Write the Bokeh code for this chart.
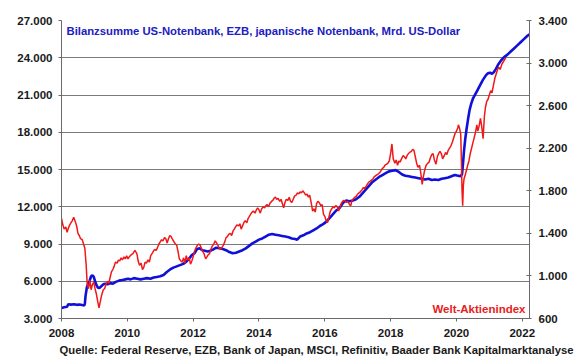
from bokeh.plotting import figure
from bokeh.models import Range1d, LinearAxis, FixedTicker, CustomJSTickFormatter, Label, Title
from bokeh.embed import file_html
from bokeh.resources import INLINE

# ---- data ----
x_ticks = [2008, 2010, 2012, 2014, 2016, 2018, 2020, 2022]
left_ticks = [3000, 6000, 9000, 12000, 15000, 18000, 21000, 24000, 27000]
right_ticks = [600, 1000, 1400, 1800, 2200, 2600, 3000, 3400]

blue_years = [2008.00, 2008.08, 2008.17, 2008.21, 2008.29, 2008.38, 2008.46, 2008.54, 2008.63, 2008.69,
              2008.71, 2008.73, 2008.77, 2008.81, 2008.85, 2008.90, 2008.94, 2008.98, 2009.02, 2009.06,
              2009.10, 2009.15, 2009.21, 2009.27, 2009.33, 2009.40, 2009.48, 2009.56, 2009.65, 2009.75,
              2009.85, 2009.94, 2010.02, 2010.10, 2010.20, 2010.30, 2010.40, 2010.50, 2010.60, 2010.70,
              2010.80, 2010.90, 2011.00, 2011.10, 2011.20, 2011.30, 2011.40, 2011.50, 2011.60, 2011.70,
              2011.80, 2011.90, 2011.96, 2012.04, 2012.12, 2012.20, 2012.28, 2012.36, 2012.44, 2012.52,
              2012.60, 2012.70, 2012.80, 2012.90, 2013.00, 2013.10, 2013.20, 2013.30, 2013.40, 2013.50,
              2013.60, 2013.70, 2013.80, 2013.90, 2014.00, 2014.10, 2014.20, 2014.30, 2014.40, 2014.50,
              2014.60, 2014.70, 2014.80, 2014.90, 2015.00, 2015.10, 2015.16, 2015.25, 2015.35, 2015.45,
              2015.55, 2015.65, 2015.75, 2015.85, 2015.95, 2016.05, 2016.15, 2016.25, 2016.35, 2016.45,
              2016.55, 2016.65, 2016.75, 2016.85, 2016.95, 2017.05, 2017.15, 2017.25, 2017.35, 2017.45,
              2017.55, 2017.65, 2017.75, 2017.85, 2017.95, 2018.05, 2018.15, 2018.25, 2018.35, 2018.45,
              2018.55, 2018.65, 2018.75, 2018.85, 2018.95, 2019.05, 2019.15, 2019.25, 2019.35, 2019.45,
              2019.55, 2019.65, 2019.75, 2019.85, 2019.95, 2020.05, 2020.12, 2020.17, 2020.20, 2020.23,
              2020.27, 2020.31, 2020.35, 2020.40, 2020.45, 2020.50, 2020.60, 2020.70, 2020.80, 2020.90,
              2020.96, 2021.02, 2021.08, 2021.14, 2021.20, 2021.28, 2021.36, 2021.45, 2021.55, 2021.65,
              2021.75, 2021.85, 2021.95, 2022.05, 2022.15, 2022.22]
blue_values = [3850, 3900, 3950, 4150, 4120, 4150, 4100, 4130, 4080, 4050,
               4200, 4800, 5500, 5800, 6000, 6400, 6480, 6350, 6000, 5700,
               5500, 5450, 5600, 5750, 5800, 5750, 5850, 5800, 5950, 6050,
               6100, 6150, 6200, 6150, 6250, 6200, 6150, 6200, 6250, 6200,
               6300, 6350, 6400, 6500, 6750, 6950, 7100, 7200, 7300, 7400,
               7600, 7900, 8100, 8250, 8600, 8650, 8500, 8450, 8400, 8450,
               8550, 8700, 8650, 8600, 8500, 8350, 8250, 8300, 8400, 8500,
               8650, 8850, 9050, 9200, 9350, 9450, 9600, 9750, 9800, 9750,
               9700, 9650, 9600, 9550, 9450, 9400, 9350, 9600, 9700, 9850,
               9950, 10100, 10250, 10450, 10600, 10800, 11100, 11400, 11700, 11900,
               12300, 12500, 12450, 12500, 12600, 12800, 13100, 13400, 13700, 14000,
               14200, 14400, 14550, 14700, 14850, 14900, 14950, 14800, 14600, 14500,
               14450, 14400, 14350, 14300, 14250, 14200, 14250, 14150, 14200, 14150,
               14250, 14300, 14350, 14450, 14550, 14500, 14450, 14600, 15500, 16500,
               17500, 18300, 19000, 19800, 20300, 20700, 21200, 21700, 22200, 22600,
               22750, 22800, 22700, 22850, 23100, 23500, 23800, 24050, 24250, 24500,
               24750, 25000, 25250, 25500, 25750, 25900]

red_years = [2008.00, 2008.04, 2008.08, 2008.13, 2008.17, 2008.21, 2008.25, 2008.29, 2008.33, 2008.37,
             2008.42, 2008.46, 2008.50, 2008.54, 2008.58, 2008.63, 2008.67, 2008.71, 2008.75, 2008.78,
             2008.82, 2008.86, 2008.90, 2008.94, 2008.98, 2009.02, 2009.06, 2009.10, 2009.14, 2009.18,
             2009.22, 2009.27, 2009.31, 2009.35, 2009.40, 2009.44, 2009.48, 2009.52, 2009.56, 2009.60,
             2009.64, 2009.69, 2009.73, 2009.77, 2009.81, 2009.85, 2009.90, 2009.94, 2009.98, 2010.02,
             2010.06, 2010.12, 2010.17, 2010.23, 2010.29, 2010.33, 2010.37, 2010.42, 2010.46, 2010.50,
             2010.54, 2010.58, 2010.63, 2010.67, 2010.71, 2010.75, 2010.79, 2010.83, 2010.88, 2010.92,
             2010.96, 2011.00, 2011.04, 2011.08, 2011.13, 2011.17, 2011.21, 2011.25, 2011.29, 2011.33,
             2011.38, 2011.42, 2011.46, 2011.50, 2011.54, 2011.58, 2011.63, 2011.67, 2011.71, 2011.75,
             2011.79, 2011.83, 2011.88, 2011.92, 2011.96, 2012.00, 2012.04, 2012.08, 2012.13, 2012.17,
             2012.21, 2012.25, 2012.29, 2012.33, 2012.38, 2012.42, 2012.46, 2012.50, 2012.54, 2012.58,
             2012.63, 2012.67, 2012.71, 2012.75, 2012.79, 2012.83, 2012.88, 2012.92, 2012.96, 2013.00,
             2013.04, 2013.08, 2013.13, 2013.17, 2013.21, 2013.25, 2013.29, 2013.33, 2013.38, 2013.42,
             2013.46, 2013.50, 2013.54, 2013.58, 2013.63, 2013.67, 2013.71, 2013.75, 2013.79, 2013.83,
             2013.88, 2013.92, 2013.96, 2014.00, 2014.04, 2014.08, 2014.13, 2014.17, 2014.21, 2014.25,
             2014.29, 2014.33, 2014.38, 2014.42, 2014.46, 2014.50, 2014.54, 2014.58, 2014.63, 2014.67,
             2014.71, 2014.75, 2014.79, 2014.83, 2014.88, 2014.92, 2014.96, 2015.00, 2015.04, 2015.08,
             2015.13, 2015.17, 2015.21, 2015.25, 2015.29, 2015.33, 2015.38, 2015.42, 2015.46, 2015.50,
             2015.54, 2015.58, 2015.63, 2015.67, 2015.71, 2015.75, 2015.79, 2015.83, 2015.88, 2015.92,
             2015.96, 2016.00, 2016.04, 2016.08, 2016.13, 2016.17, 2016.21, 2016.25, 2016.29, 2016.33,
             2016.38, 2016.42, 2016.46, 2016.50, 2016.54, 2016.58, 2016.63, 2016.67, 2016.71, 2016.75,
             2016.79, 2016.83, 2016.88, 2016.92, 2016.96, 2017.00, 2017.04, 2017.08, 2017.13, 2017.17,
             2017.21, 2017.25, 2017.29, 2017.33, 2017.38, 2017.42, 2017.46, 2017.50, 2017.54, 2017.58,
             2017.63, 2017.67, 2017.71, 2017.75, 2017.79, 2017.83, 2017.88, 2017.92, 2017.96, 2018.00,
             2018.04, 2018.08, 2018.13, 2018.17, 2018.21, 2018.25, 2018.29, 2018.33, 2018.38, 2018.42,
             2018.46, 2018.50, 2018.54, 2018.58, 2018.63, 2018.67, 2018.71, 2018.75, 2018.79, 2018.83,
             2018.88, 2018.92, 2018.96, 2019.00, 2019.04, 2019.08, 2019.13, 2019.17, 2019.21, 2019.25,
             2019.29, 2019.33, 2019.38, 2019.42, 2019.46, 2019.50, 2019.54, 2019.58, 2019.63, 2019.67,
             2019.71, 2019.75, 2019.79, 2019.83, 2019.88, 2019.92, 2019.96, 2020.00, 2020.04, 2020.06,
             2020.10, 2020.13, 2020.15, 2020.17, 2020.19, 2020.21, 2020.23, 2020.27, 2020.31, 2020.35,
             2020.38, 2020.42, 2020.46, 2020.50, 2020.54, 2020.58, 2020.62, 2020.65, 2020.69, 2020.73,
             2020.77, 2020.81, 2020.85, 2020.88, 2020.92, 2020.96, 2021.00, 2021.04, 2021.08, 2021.13,
             2021.17, 2021.21, 2021.25, 2021.29, 2021.33, 2021.38, 2021.42, 2021.46, 2021.50]
red_values = [1540, 1480, 1440, 1460, 1410, 1450, 1480, 1500, 1520, 1550,
              1510, 1470, 1400, 1380, 1350, 1340, 1300, 1260, 1100, 930,
              880, 960, 870, 920, 940, 880, 830, 760, 700, 760,
              820, 870, 880, 920, 950, 930, 990, 1040, 1060, 1090,
              1130, 1120, 1150, 1140, 1170, 1150, 1180, 1160, 1190, 1160,
              1180, 1200, 1210, 1240, 1210, 1140, 1100, 1120, 1060, 1080,
              1130, 1120, 1150, 1130, 1190, 1210, 1230, 1250, 1240, 1270,
              1300, 1320, 1340, 1330, 1360, 1350, 1310, 1350, 1380, 1370,
              1340, 1320, 1300, 1290, 1230, 1160, 1140, 1130, 1170, 1120,
              1190, 1150, 1170, 1110, 1140, 1180, 1230, 1260, 1290, 1300,
              1290, 1260, 1230, 1210, 1160, 1180, 1200, 1210, 1250, 1280,
              1300, 1330, 1310, 1290, 1260, 1250, 1270, 1290, 1320, 1360,
              1370, 1390, 1400, 1380, 1420, 1440, 1460, 1480, 1470, 1490,
              1440, 1470, 1500, 1520, 1500, 1540, 1560, 1580, 1600, 1610,
              1590, 1620, 1640, 1620, 1590, 1630, 1650, 1640, 1660, 1670,
              1650, 1680, 1700, 1710, 1730, 1740, 1720, 1730, 1700, 1720,
              1680, 1640, 1690, 1720, 1710, 1740, 1700, 1690, 1720, 1750,
              1760, 1780, 1770, 1790, 1780, 1800, 1780, 1760, 1770, 1740,
              1760, 1700, 1610, 1630, 1600, 1680, 1700, 1690, 1660, 1670,
              1580, 1560, 1520, 1500, 1560, 1610, 1630, 1650, 1640, 1660,
              1650, 1610, 1640, 1680, 1700, 1710, 1700, 1690, 1700, 1670,
              1660, 1710, 1730, 1740, 1750, 1770, 1780, 1790, 1810, 1830,
              1820, 1840, 1860, 1880, 1890, 1900, 1910, 1930, 1940, 1950,
              1960, 1970, 1990, 2010, 2020, 2040, 2050, 2060, 2080, 2150,
              2240, 2100, 2060, 2090, 2040, 2080, 2070, 2100, 2130, 2120,
              2100, 2130, 2150, 2160, 2170, 2190, 2180, 2120, 2060, 2020,
              2040, 1960, 1860, 1940, 2000, 2040, 2060, 2070, 2110, 2140,
              2150, 2090, 2050, 2120, 2150, 2170, 2150, 2100, 2130, 2160,
              2140, 2180, 2200, 2220, 2260, 2300, 2340, 2360, 2390, 2420,
              2380, 2330, 2100, 1800, 1660, 1850, 1910, 1950, 2000, 2050,
              2080, 2150, 2200, 2250, 2300, 2350, 2420, 2360, 2410, 2480,
              2400, 2290, 2500, 2580, 2640, 2660, 2700, 2740, 2720, 2800,
              2860, 2900, 2940, 2960, 2940, 2990, 3010, 3030, 3050]

title_text = "Bilanzsumme US-Notenbank, EZB, japanische Notenbank, Mrd. US-Dollar"
index_text = "Welt-Aktienindex"
source_text = "Quelle: Federal Reserve, EZB, Bank of Japan, MSCI, Refinitiv, Baader Bank Kapitalmarktanalyse"

FONT = "Liberation Sans"
fmt_code = "return Math.round(tick).toString().replace(/\\B(?=(\\d{3})+(?!\\d))/g, '.');"

p = figure(width=580, height=359, output_backend="svg", toolbar_location=None,
           x_range=Range1d(2008, 2022.22), y_range=Range1d(3000, 27000),
           min_border_left=61, min_border_right=51, min_border_top=20, min_border_bottom=41)
p.outline_line_color = None
p.background_fill_color = "white"
p.border_fill_color = "white"

p.extra_y_ranges = {"right": Range1d(600, 3400)}

# grid
p.xgrid.grid_line_color = None
p.ygrid.grid_line_color = "#7a7a7a"
p.ygrid.grid_line_width = 1
p.ygrid.ticker = FixedTicker(ticks=left_ticks)

# axes
xa = p.xaxis[0]
xa.ticker = FixedTicker(ticks=x_ticks)
xa.formatter = CustomJSTickFormatter(code="return Math.round(tick).toString();")
ya = p.yaxis[0]
ya.ticker = FixedTicker(ticks=left_ticks)
ya.formatter = CustomJSTickFormatter(code=fmt_code)

ra = LinearAxis(y_range_name="right", ticker=FixedTicker(ticks=right_ticks),
                formatter=CustomJSTickFormatter(code=fmt_code))
p.add_layout(ra, "right")

for ax in (xa, ya, ra):
    ax.axis_line_color = "#6a6a6a"
    ax.axis_line_width = 1
    ax.major_tick_line_color = "#6a6a6a"
    ax.minor_tick_line_color = None
    ax.major_label_text_font = FONT
    ax.major_label_text_font_style = "bold"
    ax.major_label_text_font_size = "11.5px"
    ax.major_label_text_color = "#1a1a1a"

xa.major_tick_in = 0
xa.major_tick_out = 3
xa.major_label_standoff = 7
ya.major_tick_in = 0
ya.major_tick_out = 3
ya.major_label_standoff = 6
ra.major_tick_in = 3
ra.major_tick_out = 2
ra.major_label_standoff = 7

# series
p.line(blue_years, blue_values, line_color="#1010d8", line_width=2.6)
p.line(red_years, red_values, line_color="#f01818", line_width=1.5, y_range_name="right")

# texts
p.add_layout(Label(x=5, y=288, x_units="screen", y_units="screen", text=title_text,
                   text_font=FONT, text_font_style="bold", text_font_size="11.3px",
                   text_color="#2020c0", text_baseline="middle", text_align="left"))
p.add_layout(Label(x=464, y=10, x_units="screen", y_units="screen", text=index_text,
                   text_font=FONT, text_font_style="bold", text_font_size="11.5px",
                   text_color="#e82020", text_baseline="middle", text_align="right"))
p.add_layout(Title(text=source_text, align="left", offset=-2, standoff=4,
                   text_font=FONT, text_font_style="bold", text_font_size="11.3px",
                   text_color="#1a1a1a"), "below")

open("out.html", "w").write(file_html(p, INLINE))
